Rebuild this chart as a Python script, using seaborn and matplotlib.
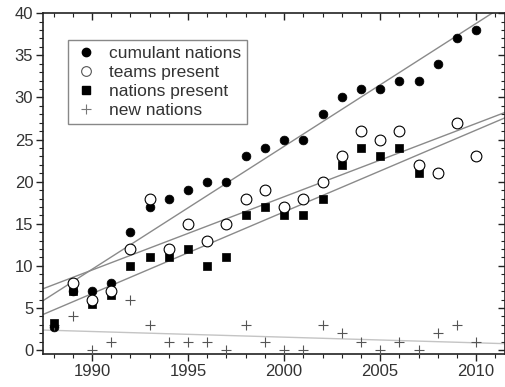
import numpy as np
import pandas as pd
import matplotlib
matplotlib.use("Agg")
import matplotlib.pyplot as plt
import seaborn as sns
from matplotlib.ticker import MultipleLocator
from matplotlib.lines import Line2D

years = list(range(1988, 2011))
cumulant_nations = [2.8, 7, 7, 8, 14, 17, 18, 19, 20, 20, 23, 24, 25, 25, 28, 30, 31, 31, 32, 32, 34, 37, 38]
teams_present = [np.nan, 8, 6, 7, 12, 18, 12, 15, 13, 15, 18, 19, 17, 18, 20, 23, 26, 25, 26, 22, 21, 27, 23]
nations_present = [3.2, 7, 5.5, 6.5, 10, 11, 11, 12, 10, 11, 16, 17, 16, 16, 18, 22, 24, 23, 24, 21, 21, 27, 23]
new_nations = [3, 4, 0, 1, 6, 3, 1, 1, 1, 0, 3, 1, 0, 0, 3, 2, 1, 0, 1, 0, 2, 3, 1]
legend_labels = ["cumulant nations", "teams present", "nations present", "new nations"]

sns.set_theme(style="white")
plt.rcParams['font.family'] = ['Liberation Sans', 'DejaVu Sans']

df = pd.DataFrame({"year": years, "cum": cumulant_nations, "teams": teams_present,
                   "nations": nations_present, "new": new_nations})

fig = plt.figure(figsize=(5.06, 3.87), dpi=100)
ax = fig.add_axes([0.085, 0.085, 0.913, 0.881])
ax.set_xlim(1987.45, 2011.5)
ax.set_ylim(-0.47, 40)

line_kw = dict(color="#8a8a8a", lw=1.0, zorder=2)

sns.regplot(data=df, x="year", y="cum", ax=ax, ci=None, truncate=False,
            marker="o",
            scatter_kws=dict(s=40, color="black", edgecolor="black", linewidths=0.5, zorder=3, alpha=1),
            line_kws=line_kw)
sns.regplot(data=df, x="year", y="nations", ax=ax, ci=None, truncate=False,
            marker="s",
            scatter_kws=dict(s=34, color="black", edgecolor="black", linewidths=0.5, zorder=4, alpha=1),
            line_kws=line_kw)
sns.regplot(data=df.dropna(), x="year", y="teams", ax=ax, ci=None, truncate=False,
            marker="o",
            scatter_kws=dict(s=60, facecolor="white", edgecolor="black", linewidths=0.8, zorder=5, alpha=1),
            line_kws=line_kw)
sns.regplot(data=df, x="year", y="new", ax=ax, ci=None, truncate=False,
            marker="+",
            scatter_kws=dict(s=50, color="#555555", linewidths=0.8, zorder=3, alpha=1),
            line_kws=dict(color="#c4c4c4", lw=1.0, zorder=2))

ax.set_xlim(1987.45, 2011.5)
ax.set_ylim(-0.47, 40)
ax.set_xlabel("")
ax.set_ylabel("")

ax.xaxis.set_major_locator(MultipleLocator(5))
ax.xaxis.set_minor_locator(MultipleLocator(1))
ax.yaxis.set_major_locator(MultipleLocator(5))
ax.yaxis.set_minor_locator(MultipleLocator(1))
ax.tick_params(which="major", direction="out", length=5, width=1, colors="#222222",
               labelsize=12, bottom=True, left=True, pad=2)
ax.tick_params(which="minor", direction="out", length=3, width=0.8, colors="#222222",
               bottom=True, left=True)
for lab in ax.get_xticklabels() + ax.get_yticklabels():
    lab.set_color("#333333")

for side in ["top", "right", "bottom", "left"]:
    ax.spines[side].set_color("#222222")
    ax.spines[side].set_linewidth(1.2)

secx = ax.secondary_xaxis("top")
secx.xaxis.set_major_locator(MultipleLocator(5))
secx.xaxis.set_minor_locator(MultipleLocator(1))
secx.tick_params(which="major", direction="in", length=5, width=1, colors="#222222", labeltop=False)
secx.tick_params(which="minor", direction="in", length=3, width=0.8, colors="#222222")
secx.spines["top"].set_visible(False)

secy = ax.secondary_yaxis("right")
secy.yaxis.set_major_locator(MultipleLocator(5))
secy.yaxis.set_minor_locator(MultipleLocator(1))
secy.tick_params(which="major", direction="in", length=5, width=1, colors="#222222", labelright=False)
secy.tick_params(which="minor", direction="in", length=3, width=0.8, colors="#222222")
secy.spines["right"].set_visible(False)

handles = [
    Line2D([], [], ls="none", marker="o", ms=6, mfc="black", mec="black"),
    Line2D([], [], ls="none", marker="o", ms=7, mfc="white", mec="#555555", mew=0.8),
    Line2D([], [], ls="none", marker="s", ms=5.5, mfc="black", mec="black"),
    Line2D([], [], ls="none", marker="+", ms=7, mec="#777777", mew=0.8),
]
leg = ax.legend(handles, legend_labels, loc="upper left",
                bbox_to_anchor=(0.054, 0.921), borderaxespad=0, fontsize=12.5,
                frameon=True, fancybox=False, edgecolor="#888888", framealpha=1,
                handlelength=1.4, handletextpad=0.6, labelspacing=0.22,
                borderpad=0.35)
leg.get_frame().set_linewidth(1.0)
for t in leg.get_texts():
    t.set_color("#333333")

fig.savefig("out.png", dpi=100)
